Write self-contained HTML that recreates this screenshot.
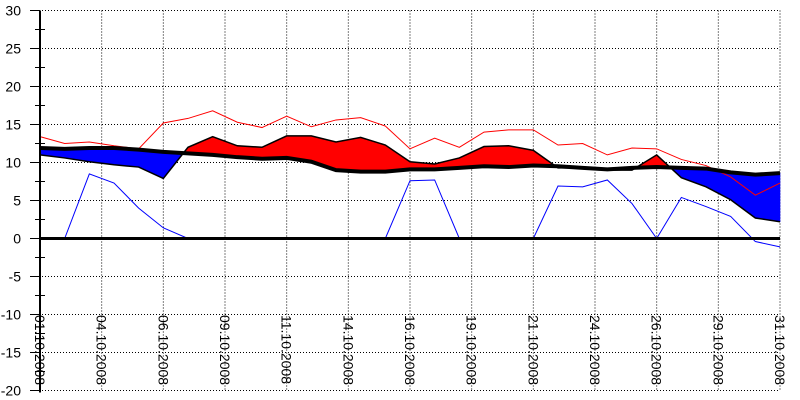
<!DOCTYPE html>
<html><head><meta charset="utf-8"><style>
html,body{margin:0;padding:0;background:#fff;}
svg{display:block;font-family:"Liberation Sans",sans-serif;}
</style></head><body>
<svg id="chart" width="800" height="400" viewBox="0 0 800 400" xmlns="http://www.w3.org/2000/svg">
<g id="grid"></g>
<g id="fills"></g>
<g id="lines"></g>
<g id="axes"></g>
</svg>
<script>
const days = [1,2,3,4,5,6,7,8,9,10,11,12,13,14,15,16,17,18,19,20,21,22,23,24,25,26,27,28,29,30,31];
const normTemp = [11.9,11.8,11.9,11.9,11.7,11.4,11.2,11.0,10.7,10.5,10.6,10.1,9.0,8.8,8.8,9.1,9.1,9.3,9.5,9.4,9.6,9.5,9.3,9.1,9.3,9.4,9.3,9.2,8.7,8.4,8.6];
const meanTemp = [11.0,10.6,10.1,9.7,9.4,7.9,12.0,13.4,12.2,12.0,13.5,13.5,12.7,13.3,12.3,10.1,9.8,10.6,12.1,12.2,11.6,9.3,9.3,9.0,9.0,11.0,8.0,6.8,5.1,2.7,2.2];
const maxTemp = [13.4,12.5,12.7,12.2,11.8,15.2,15.8,16.8,15.3,14.6,16.1,14.7,15.6,15.9,14.8,11.8,13.2,12.0,14.0,14.3,14.3,12.3,12.5,11.0,11.9,11.8,10.4,9.6,8.1,5.7,7.3];
const minTemp = [0,0,8.5,7.3,4.0,1.4,0,0,0,0,0,0,0,0,0,7.6,7.7,0,0,0,0,6.9,6.8,7.7,4.6,0,5.4,4.2,2.9,-0.4,-1.1];
const yTicks = [30,25,20,15,10,5,0,-5,-10,-15,-20];
const xLabels = ["01.10.2008","04.10.2008","06.10.2008","09.10.2008","11.10.2008","14.10.2008","16.10.2008","19.10.2008","21.10.2008","24.10.2008","26.10.2008","29.10.2008","31.10.2008"];

const NS="http://www.w3.org/2000/svg";
const X0=40,X1=780;
function xs(d){return X0+(d-1)*(X1-X0)/30;}
function ys(v){return 238.5-7.6*v;}
function mk(tag,attrs,parent){const e=document.createElementNS(NS,tag);for(const k in attrs)e.setAttribute(k,attrs[k]);parent.appendChild(e);return e;}
const grid=document.getElementById('grid'),fills=document.getElementById('fills'),lines=document.getElementById('lines'),axes=document.getElementById('axes');

// horizontal grid + y labels
yTicks.forEach(t=>{
  const y=ys(t);
  const g=mk('line',{x1:30,x2:X1,y1:y,y2:y,stroke:'#000','stroke-width':1,'stroke-dasharray':'1,2'},grid);
  
  
  const tk=mk('line',{x1:30,x2:40,y1:y,y2:y,stroke:'#000','stroke-width':1},axes);
  
  
  const tx=mk('text',{x:21,y:y+5,'text-anchor':'end','font-size':14,fill:'#000'},axes);
  tx.textContent=t;
  
  
});
for(let t=27.5;t>-20;t-=5){
  const y=ys(t);
  const m=mk('line',{x1:35,x2:45,y1:y,y2:y,stroke:'#000','stroke-width':1},axes);
  
  
}
// vertical grid + x labels
xLabels.forEach((lab,i)=>{
  const x=X0+i*(X1-X0)/12;
  if(i>0){
    const g=mk('line',{x1:x,x2:x,y1:ys(30),y2:ys(-20),stroke:'#000','stroke-width':1,'stroke-dasharray':'1,2'},grid);
    
    
  }
  const tx=mk('text',{x:0,y:0,'font-size':14,fill:'#000',transform:`translate(${x-5},315) rotate(90)`},axes);
  tx.textContent=lab;
  
  
});
// y axis
const ax=mk('line',{x1:40,x2:40,y1:ys(30),y2:ys(-20)+2,stroke:'#000','stroke-width':2},axes);



// fills between norm and mean
for(let i=0;i<days.length-1;i++){
  const xa=xs(days[i]),xb=xs(days[i+1]);
  const da=meanTemp[i]-normTemp[i],db=meanTemp[i+1]-normTemp[i+1];
  const segs=[];
  if(da*db<0){
    const f=da/(da-db);
    const xc=xa+(xb-xa)*f, vc=normTemp[i]+(normTemp[i+1]-normTemp[i])*f;
    segs.push([[xa,ys(meanTemp[i])],[xc,ys(vc)],[xa,ys(normTemp[i])]],da);
    segs.length=0;
    segs.push({p:[[xa,ys(meanTemp[i])],[xc,ys(vc)],[xa,ys(normTemp[i])]],s:da});
    segs.push({p:[[xc,ys(vc)],[xb,ys(meanTemp[i+1])],[xb,ys(normTemp[i+1])]],s:db});
  } else {
    segs.push({p:[[xa,ys(meanTemp[i])],[xb,ys(meanTemp[i+1])],[xb,ys(normTemp[i+1])],[xa,ys(normTemp[i])]],s:da+db});
  }
  segs.forEach(s=>{
    const pg=mk('polygon',{points:s.p.map(q=>q.join(',')).join(' '),fill:s.s>=0?'#ff0000':'#0000ff',stroke:s.s>=0?'#ff0000':'#0000ff','stroke-width':0.6},fills);
    
    
  });
}
function pl(arr,attrs,name){
  const e=mk('polyline',Object.assign({points:days.map((d,i)=>xs(d)+','+ys(arr[i])).join(' '),fill:'none'},attrs),lines);
  
  
}
pl(maxTemp,{stroke:'#ff0000','stroke-width':1},'max-temp-line');
pl(minTemp,{stroke:'#0000ff','stroke-width':1},'min-temp-line');
pl(meanTemp,{stroke:'#000','stroke-width':1.5},'mean-temp-line');
pl(normTemp,{stroke:'#000','stroke-width':4},'norm-temp-line');
const z=mk('line',{x1:40,x2:X1,y1:ys(0),y2:ys(0),stroke:'#000','stroke-width':3},lines);


</script>
</body></html>
